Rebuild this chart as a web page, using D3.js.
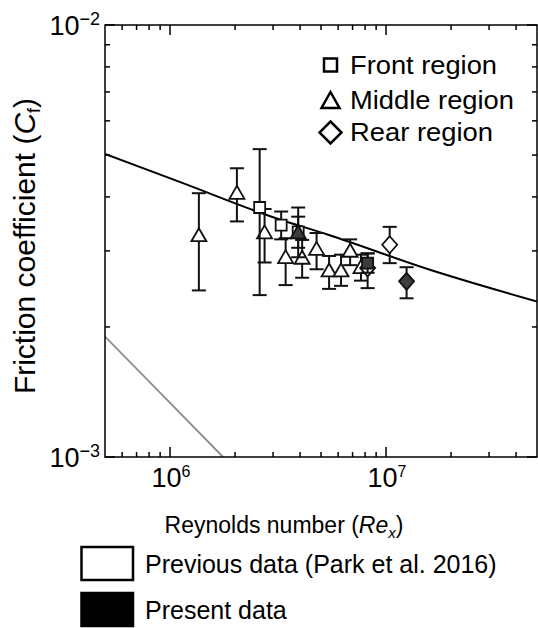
<!DOCTYPE html>
<html><head><meta charset="utf-8">
<script src="https://cdn.jsdelivr.net/npm/d3@7"></script>
<style>
body{margin:0;background:#fff}
svg{display:block}
text{font-family:"Liberation Sans",Arial,Helvetica,sans-serif;fill:#000}
</style>
</head><body><svg id="c" width="538" height="628"></svg>
<script>
// ---------------- data ----------------
const xDomain = [5e5, 5e7];
const yDomain = [1e-3, 1e-2];
const xMajorTicks = [1e6, 1e7];
const xMajorLabels = ["6", "7"];
const xMinorTicks = [6e5, 7e5, 8e5, 9e5, 2e6, 3e6, 4e6, 5e6, 6e6, 7e6, 8e6, 9e6, 2e7, 3e7, 4e7];
const yMajorTicks = [1e-3, 1e-2];
const yMajorLabels = ["\u22123", "\u22122"];
const yMinorTicks = [2e-3, 3e-3, 4e-3, 5e-3, 6e-3, 7e-3, 8e-3, 9e-3];

// turbulent correlation curve
const turbRe = [5e5, 1.1e6, 3.2e6, 5.4e6, 1.57e7, 5e7];
const turbCf = [5.03e-3, 4.34e-3, 3.55e-3, 3.27e-3, 2.72e-3, 2.29e-3];
// laminar curve
const lamRe = [5e5, 1.76e6];
const lamCf = [1.90e-3, 1.0e-3];

// previous data (open symbols)
const prevFrontRe = [2.60e6, 3.27e6, 3.92e6];
const prevFrontCf = [3.78e-3, 3.44e-3, 3.32e-3];
const prevFrontLo = [2.37e-3, 3.19e-3, 3.05e-3];
const prevFrontHi = [5.16e-3, 3.70e-3, 3.60e-3];

const prevMiddleRe = [1.36e6, 2.04e6, 2.74e6, 3.43e6, 4.09e6, 4.77e6, 5.45e6, 6.19e6, 6.82e6, 7.66e6];
const prevMiddleCf = [3.27e-3, 4.10e-3, 3.32e-3, 2.91e-3, 2.90e-3, 3.04e-3, 2.71e-3, 2.71e-3, 3.01e-3, 2.76e-3];
const prevMiddleLo = [2.43e-3, 3.51e-3, 2.82e-3, 2.50e-3, 2.60e-3, 2.72e-3, 2.45e-3, 2.49e-3, 2.78e-3, 2.56e-3];
const prevMiddleHi = [4.08e-3, 4.66e-3, 3.75e-3, 3.21e-3, 3.18e-3, 3.30e-3, 2.92e-3, 2.94e-3, 3.19e-3, 2.94e-3];

const prevRearRe = [8.22e6, 1.04e7];
const prevRearCf = [2.74e-3, 3.10e-3];
const prevRearLo = [2.46e-3, 2.81e-3];
const prevRearHi = [2.96e-3, 3.41e-3];

// present data (filled symbols)
const presFrontRe = [8.22e6];
const presFrontCf = [2.81e-3];
const presFrontLo = [2.67e-3];
const presFrontHi = [2.96e-3];

const presMiddleRe = [3.92e6];
const presMiddleCf = [3.32e-3];
const presMiddleLo = [2.90e-3];
const presMiddleHi = [3.78e-3];

const presRearRe = [1.245e7];
const presRearCf = [2.55e-3];
const presRearLo = [2.33e-3];
const presRearHi = [2.75e-3];

const regionLabels = ["Front region", "Middle region", "Rear region"];
const dataLabels = ["Previous data (Park et al. 2016)", "Present data"];

// ---------------- layout ----------------
const L = 105, R = 537, T = 25, B = 457;
const svg = d3.select("#c");
const x = d3.scaleLog().domain(xDomain).range([L, R]);
const y = d3.scaleLog().domain(yDomain).range([B, T]);
const FILL = "#3d3d3d";

svg.append("defs").append("clipPath").attr("id", "clip")
  .append("rect").attr("x", L).attr("y", T).attr("width", R - L).attr("height", B - T);

// symbol paths
function sq(s) { const h = s / 2; return `M${-h},${-h}H${h}V${h}H${-h}Z`; }
function tri(w, h) { return `M0,${-h / 2}L${w / 2},${h / 2}L${-w / 2},${h / 2}Z`; }
function dia(w, h) { return `M0,${-h / 2}L${w / 2},0L0,${h / 2}L${-w / 2},0Z`; }
const shapes = { front: sq(11), middle: tri(15, 13), rear: dia(15, 17) };

// ---------------- curves ----------------
const lineGen = d3.line().x(d => x(d[0])).y(d => y(d[1])).curve(d3.curveMonotoneX);
const g = svg.append("g").attr("clip-path", "url(#clip)");
g.append("path").datum(d3.zip(lamRe, lamCf)).attr("d", lineGen)
  .attr("fill", "none").attr("stroke", "#8a8a8a").attr("stroke-width", 1.8);
g.append("path").datum(d3.zip(turbRe, turbCf)).attr("d", lineGen)
  .attr("fill", "none").attr("stroke", "#000").attr("stroke-width", 2);

// ---------------- data points ----------------
function drawSet(re, cf, lo, hi, shape, filled) {
  const data = re.map((r, i) => ({ r, c: cf[i], lo: lo[i], hi: hi[i] }));
  const gg = svg.append("g");
  const cap = 7;
  data.forEach(d => {
    const xx = x(d.r);
    gg.append("line").attr("x1", xx).attr("x2", xx).attr("y1", y(d.lo)).attr("y2", y(d.hi))
      .attr("stroke", "#111").attr("stroke-width", 2);
    [d.lo, d.hi].forEach(v => gg.append("line").attr("x1", xx - cap).attr("x2", xx + cap)
      .attr("y1", y(v)).attr("y2", y(v)).attr("stroke", "#111").attr("stroke-width", 2));
  });
  gg.selectAll("path.m").data(data).join("path").attr("class", "m")
    .attr("d", shapes[shape])
    .attr("transform", d => `translate(${x(d.r)},${y(d.c)})`)
    .attr("fill", filled ? FILL : "#fff").attr("stroke", "#111").attr("stroke-width", 1.8);
}
drawSet(prevMiddleRe, prevMiddleCf, prevMiddleLo, prevMiddleHi, "middle", false);
drawSet(prevFrontRe, prevFrontCf, prevFrontLo, prevFrontHi, "front", false);
drawSet(prevRearRe, prevRearCf, prevRearLo, prevRearHi, "rear", false);
drawSet(presMiddleRe, presMiddleCf, presMiddleLo, presMiddleHi, "middle", true);
drawSet(presFrontRe, presFrontCf, presFrontLo, presFrontHi, "front", true);
drawSet(presRearRe, presRearCf, presRearLo, presRearHi, "rear", true);

// ---------------- axes / frame ----------------
const ax = svg.append("g").attr("stroke", "#000").attr("stroke-width", 1.5);
ax.append("rect").attr("x", L).attr("y", T).attr("width", R - L).attr("height", B - T).attr("fill", "none");
xMajorTicks.forEach(v => {
  ax.append("line").attr("x1", x(v)).attr("x2", x(v)).attr("y1", B).attr("y2", B - 10);
  ax.append("line").attr("x1", x(v)).attr("x2", x(v)).attr("y1", T).attr("y2", T + 10);
});
xMinorTicks.forEach(v => {
  ax.append("line").attr("x1", x(v)).attr("x2", x(v)).attr("y1", B).attr("y2", B - 5);
  ax.append("line").attr("x1", x(v)).attr("x2", x(v)).attr("y1", T).attr("y2", T + 5);
});
yMajorTicks.forEach(v => {
  ax.append("line").attr("x1", L).attr("x2", L + 10).attr("y1", y(v)).attr("y2", y(v));
  ax.append("line").attr("x1", R).attr("x2", R - 10).attr("y1", y(v)).attr("y2", y(v));
});
yMinorTicks.forEach(v => {
  ax.append("line").attr("x1", L).attr("x2", L + 5).attr("y1", y(v)).attr("y2", y(v));
  ax.append("line").attr("x1", R).attr("x2", R - 5).attr("y1", y(v)).attr("y2", y(v));
});

// tick labels
xMajorTicks.forEach((v, i) => {
  const t = svg.append("text").attr("x", x(v) + 1).attr("y", 487).attr("text-anchor", "middle")
    .attr("font-size", 27);
  t.append("tspan").text("10");
  t.append("tspan").attr("font-size", 16).attr("dy", -10).text(xMajorLabels[i]);
});
yMajorTicks.forEach((v, i) => {
  const t = svg.append("text").attr("x", 100).attr("y", y(v) + 10).attr("text-anchor", "end")
    .attr("font-size", 27);
  t.append("tspan").text("10");
  t.append("tspan").attr("font-size", 18).attr("dy", -10).text(yMajorLabels[i]);
});

// axis titles
const xt = svg.append("text").attr("x", 284).attr("y", 533).attr("text-anchor", "middle").attr("font-size", 23);
xt.append("tspan").text("Reynolds number (");
xt.append("tspan").attr("font-style", "italic").text("Re");
xt.append("tspan").attr("font-style", "italic").attr("font-size", 15).attr("dy", 5).text("x");
xt.append("tspan").attr("dy", -5).text(")");

const yt = svg.append("text").attr("transform", "translate(35,246) rotate(-90)")
  .attr("text-anchor", "middle").attr("font-size", 30);
yt.append("tspan").text("Friction coefficient (");
yt.append("tspan").attr("font-style", "italic").text("C");
yt.append("tspan").attr("font-size", 18).attr("dy", 5).text("f");
yt.append("tspan").attr("dy", -5).text(")");

// region legend
const legY = [65, 100, 132.5];
const legW = [147, 164, 143];
const legShapes = [sq(13), tri(18, 16), dia(22, 22)];
regionLabels.forEach((lab, i) => {
  svg.append("path").attr("d", legShapes[i]).attr("transform", `translate(330.5,${legY[i]})`)
    .attr("fill", "#fff").attr("stroke", "#000").attr("stroke-width", 2.5);
  svg.append("text").attr("x", 350).attr("y", legY[i] + 8.5).attr("font-size", 25)
    .attr("textLength", legW[i]).attr("lengthAdjust", "spacingAndGlyphs").text(lab);
});

// data legend
const boxY = [547, 593];
dataLabels.forEach((lab, i) => {
  svg.append("rect").attr("x", 81.5).attr("y", boxY[i]).attr("width", 51.5).attr("height", 33)
    .attr("fill", i === 0 ? "#fff" : "#000").attr("stroke", "#000").attr("stroke-width", 2.5);
  svg.append("text").attr("x", 145).attr("y", boxY[i] + 26).attr("font-size", 25).text(lab);
});
</script>
</body></html>
